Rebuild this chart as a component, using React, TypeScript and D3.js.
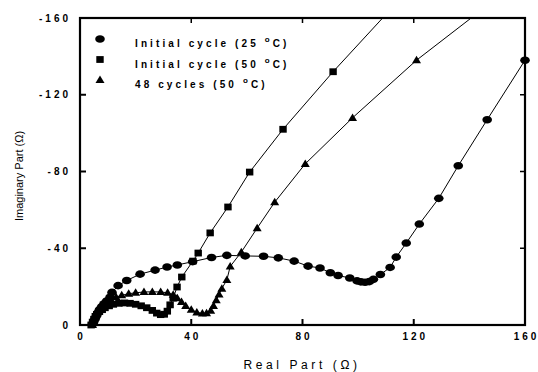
import React from "react";
import { scaleLinear, line } from "d3";

// Nyquist plot data: [real part, imaginary part] in ohms
const initial25: [number, number][] = [
  [4.5, -0.5], [5, -2], [5.5, -3.5], [6, -5], [6.5, -6.5], [7, -8], [7.8, -9.5],
  [8.6, -11], [9.6, -12.5], [10.8, -14.5], [11.5, -17], [13.7, -20.5], [16.8, -23.2],
  [21.6, -26.5], [27, -28.6], [31.3, -30.2], [35, -31.3], [40.5, -33], [47.3, -35.2],
  [52.8, -36.3], [59.4, -36], [66, -35.8], [71.3, -35], [77, -33.3], [82, -30.7],
  [86.3, -29.7], [90, -27.2], [92.8, -25.8], [97, -24.5], [99.6, -23], [101, -22.5],
  [102.5, -22.3], [104, -22.6], [105.5, -23.8], [108, -26.3], [111.5, -30],
  [113.7, -35.4], [117.3, -42.7], [122, -52.6], [129, -66], [136, -83],
  [146.4, -107], [160, -138],
];

const initial50: [number, number][] = [
  [4, 0], [4.5, -1.5], [5, -3], [5.5, -4.5], [6, -5.5], [7, -7], [8, -8], [9, -9],
  [10.5, -10], [12, -10.8], [14, -11.3], [16, -11.5], [18, -11.3], [20, -10.8],
  [22, -10], [24, -9], [26, -7.6], [27.6, -6.2], [29, -5.4], [30.3, -5.6],
  [31.4, -7.2], [32.4, -10.5], [33.5, -14], [34.9, -19.8], [36.6, -25],
  [40.6, -33.3], [42.5, -37.5], [46.8, -48], [53.2, -61.5], [61, -79.7],
  [73, -102], [91, -132], [112, -165],
];

const cycles48: [number, number][] = [
  [4.5, 0], [5, -2], [5.5, -4], [6, -6], [7, -8], [8, -10], [9.5, -12], [11, -13.5],
  [13, -14.5], [15, -15.5], [17.5, -16.3], [20, -16.8], [23, -17.2], [26, -17.3],
  [29, -17.2], [31.5, -16.8], [33.5, -15.8], [35, -14], [36.5, -12], [38, -10],
  [40, -8], [42, -6.6], [44, -6], [45.5, -6.2], [47, -7.5], [48, -10], [49, -13],
  [50, -16], [51, -19], [52.8, -23.5], [54, -30.5], [58, -38], [63.7, -50.5],
  [70, -64], [81, -84], [98, -108], [121, -138], [146, -166],
];

const xTicks = [0, 40, 80, 120, 160];
const yTicks = [0, -40, -80, -120, -160];
const legendLabels = ["Initial cycle (25 ", "Initial cycle (50 ", "48 cycles (50 "];

const W = 538;
const H = 372;
const plot = { left: 80, right: 525, top: 18, bottom: 325 };

const App = () => {
  const x = scaleLinear().domain([0, 160]).range([plot.left, plot.right]);
  const y = scaleLinear().domain([0, -160]).range([plot.bottom, plot.top]);
  const path = line<[number, number]>()
    .x((d) => x(d[0]))
    .y((d) => y(d[1]));

  const circle = (cx: number, cy: number, k: any) => (
    <ellipse key={k} cx={cx} cy={cy} rx={4.8} ry={3.8} fill="#000" />
  );
  const square = (cx: number, cy: number, k: any) => (
    <rect key={k} x={cx - 3.7} y={cy - 3.4} width={7.4} height={6.8} fill="#000" />
  );
  const triangle = (cx: number, cy: number, k: any) => (
    <path key={k} d={`M${cx},${cy - 4.4}L${cx + 4.5},${cy + 3.1}L${cx - 4.5},${cy + 3.1}Z`} fill="#000" />
  );

  const series = [
    { data: initial25, marker: circle },
    { data: initial50, marker: square },
    { data: cycles48, marker: triangle },
  ];

  const tickFont = {
    fontFamily: "Liberation Sans, Arial, sans-serif",
    fontWeight: 700,
    fontSize: 10,
    letterSpacing: 3,
  } as const;

  return (
    <svg width={W} height={H} style={{ position: "absolute", left: 0, top: 0, background: "#fff" }}>
      <defs>
        <clipPath id="plotClip">
          <rect x={plot.left - 6} y={plot.top} width={plot.right - plot.left + 12} height={plot.bottom - plot.top + 6} />
        </clipPath>
      </defs>

      {/* data */}
      <g clipPath="url(#plotClip)">
        {series.map((s, i) => (
          <g key={i}>
            <path d={path(s.data) || ""} fill="none" stroke="#000" strokeWidth={1} />
            {s.data.map((d, j) => s.marker(x(d[0]), y(d[1]), j))}
          </g>
        ))}
      </g>

      {/* frame */}
      <rect
        x={plot.left}
        y={plot.top}
        width={plot.right - plot.left}
        height={plot.bottom - plot.top}
        fill="none"
        stroke="#000"
        strokeWidth={2.2}
      />

      {/* ticks */}
      {xTicks.map((t) => (
        <g key={"x" + t}>
          <line x1={x(t)} x2={x(t)} y1={plot.bottom} y2={plot.bottom - 6} stroke="#000" strokeWidth={2} />
          <line x1={x(t)} x2={x(t)} y1={plot.top} y2={plot.top + 5} stroke="#000" strokeWidth={1.5} />
          <text x={x(t) + 1.5} y={340} textAnchor="middle" {...tickFont}>
            {t}
          </text>
        </g>
      ))}
      {yTicks.map((t) => (
        <g key={"y" + t}>
          <line x1={plot.left} x2={plot.left + 6} y1={y(t)} y2={y(t)} stroke="#000" strokeWidth={2} />
          <line x1={plot.right} x2={plot.right - 5} y1={y(t)} y2={y(t)} stroke="#000" strokeWidth={1.5} />
          <text x={71} y={y(t) + 3.5} textAnchor="end" {...tickFont}>
            {t}
          </text>
        </g>
      ))}

      {/* axis titles */}
      <text
        transform={`translate(23,176) rotate(-90)`}
        textAnchor="middle"
        fontFamily="Liberation Sans, Arial, sans-serif"
        fontSize={11}
      >
        Imaginary Part (Ω)
      </text>
      <text
        x={302}
        y={369}
        textAnchor="middle"
        fontFamily="Liberation Sans, Arial, sans-serif"
        fontSize={12}
        letterSpacing={3.6}
      >
        Real Part (Ω)
      </text>

      {/* legend */}
      {legendLabels.map((lab, i) => {
        const ly = 39 + i * 20.5;
        return (
          <g key={lab}>
            {series[i].marker(100, ly, "m")}
            <text x={135} y={ly + 8} {...tickFont} letterSpacing={3.1}>
              {lab}
              <tspan dy={-5} fontSize={8}>
                o
              </tspan>
              <tspan dy={5}>C)</tspan>
            </text>
          </g>
        );
      })}
    </svg>
  );
};

export default App;
